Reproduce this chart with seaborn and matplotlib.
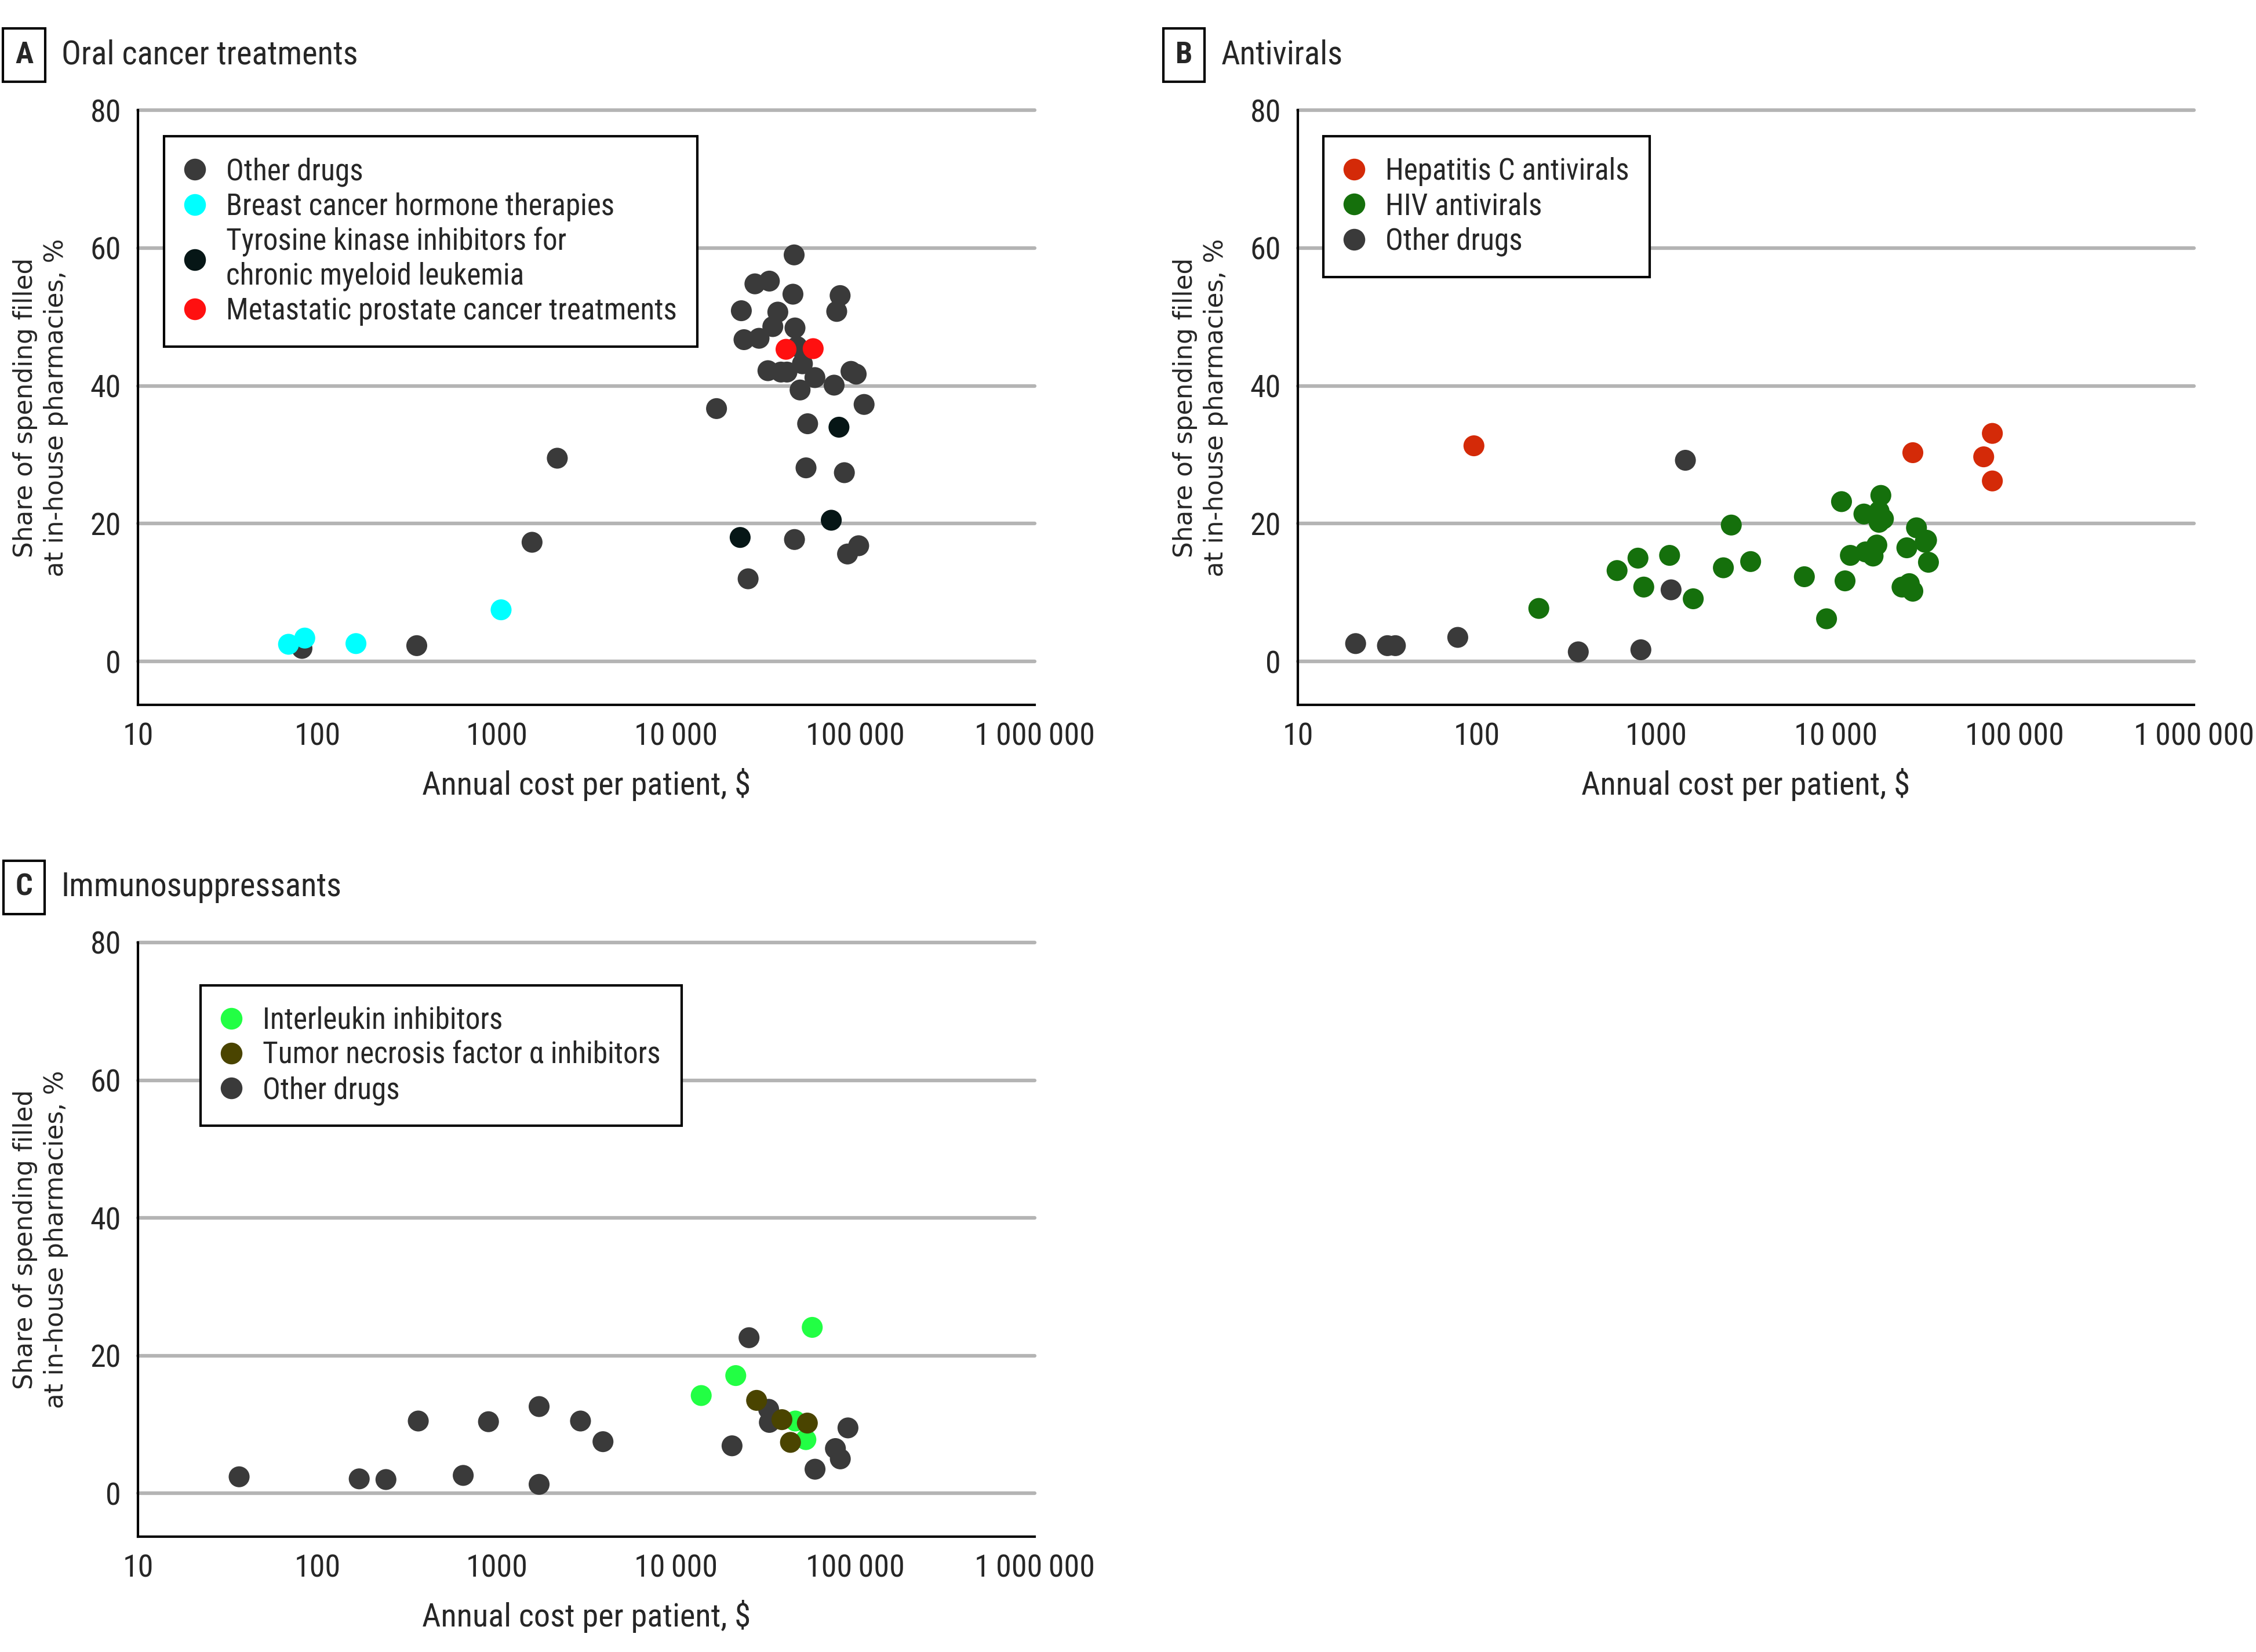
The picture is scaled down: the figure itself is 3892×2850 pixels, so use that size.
import numpy as np
import pandas as pd
import matplotlib.pyplot as plt
import seaborn as sns

# ---- Panel A: oral cancer treatments ----
a_other_cost = [82, 358, 1573, 2175, 16800, 23100, 23900, 27500, 33100, 45500, 44800,
                36900, 34600, 46000, 29000, 32500, 38400, 41500, 47300, 50600, 59400,
                94400, 100900, 76000, 49100, 111700, 54100, 53000, 86700, 45700,
                104200, 90300, 25200, 82100, 78600]
a_other_share = [1.9, 2.3, 17.3, 29.5, 36.7, 50.9, 46.7, 54.8, 55.2, 59.0, 53.3,
                 50.7, 48.6, 48.4, 46.9, 42.2, 42.0, 42.0, 45.7, 43.2, 41.2,
                 42.1, 41.7, 40.1, 39.4, 37.3, 34.5, 28.1, 27.4, 17.7,
                 16.8, 15.6, 12.0, 53.1, 50.8]
a_breast_cost = [69, 85, 164, 1057]
a_breast_share = [2.5, 3.4, 2.6, 7.5]
a_tki_cost = [80900, 73300, 22750]
a_tki_share = [34.0, 20.5, 18.0]
a_prostate_cost = [41000, 58100]
a_prostate_share = [45.3, 45.4]

# ---- Panel B: antivirals ----
b_hepc_cost = [96, 27000, 67100, 75000, 75000]
b_hepc_share = [31.3, 30.3, 29.7, 33.1, 26.2]
b_hiv_cost = [221, 604, 790, 851, 1186, 1607, 2620, 2367, 3360, 6700, 8910, 10800,
              11300, 12100, 14400, 14700, 16200, 17000, 17900, 17500, 18500, 17500,
              25000, 23500, 25800, 27000, 28300, 31600, 32200, 33000]
b_hiv_share = [7.7, 13.2, 15.0, 10.8, 15.4, 9.1, 19.8, 13.6, 14.5, 12.3, 6.2, 23.2,
               11.7, 15.4, 21.4, 15.9, 15.3, 16.9, 24.1, 21.8, 20.7, 20.2,
               16.5, 10.8, 11.3, 10.2, 19.4, 17.3, 17.6, 14.4]
b_other_cost = [21, 31.6, 35, 78, 367, 820, 1209, 1453]
b_other_share = [2.6, 2.3, 2.3, 3.5, 1.4, 1.7, 10.4, 29.2]

# ---- Panel C: immunosuppressants ----
c_il_cost = [13800, 21500, 57400, 46200, 52900]
c_il_share = [14.2, 17.1, 24.1, 10.5, 7.8]
c_tnf_cost = [28100, 38900, 53900, 43400]
c_tnf_share = [13.5, 10.7, 10.2, 7.4]
c_other_cost = [36.6, 171, 241, 365, 650, 899, 1722, 1722, 2930, 3910, 20500, 25500,
                32800, 33100, 59500, 77300, 82300, 90800]
c_other_share = [2.4, 2.1, 2.0, 10.5, 2.6, 10.4, 12.6, 1.3, 10.5, 7.5, 6.9, 22.6,
                 12.2, 10.3, 3.5, 6.5, 5.0, 9.5]

def make_df(groups):
    rows = []
    for name, xs, ys in groups:
        for x, y in zip(xs, ys):
            rows.append({'cost': x, 'share': y, 'group': name})
    return pd.DataFrame(rows)

tki_label = 'Tyrosine kinase inhibitors for\nchronic myeloid leukemia'
df_a = make_df([
    ('Other drugs', a_other_cost, a_other_share),
    ('Breast cancer hormone therapies', a_breast_cost, a_breast_share),
    (tki_label, a_tki_cost, a_tki_share),
    ('Metastatic prostate cancer treatments', a_prostate_cost, a_prostate_share),
])
df_b = make_df([
    ('Other drugs', b_other_cost, b_other_share),
    ('HIV antivirals', b_hiv_cost, b_hiv_share),
    ('Hepatitis C antivirals', b_hepc_cost, b_hepc_share),
])
df_c = make_df([
    ('Other drugs', c_other_cost, c_other_share),
    ('Interleukin inhibitors', c_il_cost, c_il_share),
    ('Tumor necrosis factor α inhibitors', c_tnf_cost, c_tnf_share),
])

pal_a = {'Other drugs': '#3a3a3a', 'Breast cancer hormone therapies': '#00ffff',
         tki_label: '#061616', 'Metastatic prostate cancer treatments': '#ff1010'}
pal_b = {'Hepatitis C antivirals': '#d42a08', 'HIV antivirals': '#15700c',
         'Other drugs': '#3a3a3a'}
pal_c = {'Interleukin inhibitors': '#22ff44', 'Tumor necrosis factor α inhibitors': '#4a4400',
         'Other drugs': '#3a3a3a'}

sns.set_style("white")
narrow = ['Roboto Condensed', 'Liberation Sans Narrow', 'Roboto', 'DejaVu Sans']
plt.rcParams['font.family'] = narrow

fig = plt.figure(figsize=(3892 / 300, 2850 / 300), dpi=300)
ax_a = fig.add_axes([0.0612, 0.5733, 0.3975, 0.3600])
ax_b = fig.add_axes([0.5753, 0.5733, 0.3972, 0.3600])
ax_c = fig.add_axes([0.0612, 0.0698, 0.3975, 0.3597])

xticks = [10, 100, 1000, 10000, 100000, 1000000]
xticklabels = ['10', '100', '1000', '10\u2009000', '100\u2009000', '1\u2009000\u2009000']

panels = [
    (ax_a, df_a, pal_a, list(pal_a.keys()), 'A', 'Oral cancer treatments', (0.029, 0.956)),
    (ax_b, df_b, pal_b, list(pal_b.keys()), 'B', 'Antivirals', (0.0285, 0.956)),
    (ax_c, df_c, pal_c, list(pal_c.keys()), 'C', 'Immunosuppressants', (0.070, 0.928)),
]

for ax, df, pal, order, letter, title, leg_pos in panels:
    for y in [0, 20, 40, 60, 80]:
        ax.axhline(y, color='#b4b4b4', lw=1.5, zorder=0, clip_on=False)
    sns.scatterplot(data=df, x='cost', y='share', hue='group', palette=pal,
                    hue_order=order, s=75, edgecolor='none', linewidth=0, ax=ax,
                    legend=False, zorder=3)
    ax.set_xscale('log')
    ax.set_xlim(10, 1000000)
    ax.set_ylim(-6.3, 80)
    ax.set_xticks(xticks)
    ax.set_xticklabels(xticklabels)
    ax.minorticks_off()
    ax.set_yticks([0, 20, 40, 60, 80])
    ax.tick_params(axis='both', direction='out', length=4, width=1, labelsize=13,
                   color='black', pad=3)
    for side in ['top', 'right']:
        ax.spines[side].set_visible(False)
    for side in ['left', 'bottom']:
        ax.spines[side].set_color('black')
        ax.spines[side].set_linewidth(1)
    ax.set_xlabel('Annual cost per patient, $', fontsize=13.5, labelpad=7)
    ax.set_ylabel('Share of spending filled\nat in-house pharmacies, %', fontsize=10.5,
                  family=['DejaVu Sans'], labelpad=9, linespacing=1.3)

    handles = [plt.Line2D([], [], marker='o', ls='none', markersize=9,
                          markerfacecolor=pal[k], markeredgecolor='none') for k in order]
    leg = ax.legend(handles, order, loc='upper left', bbox_to_anchor=leg_pos,
                    borderaxespad=0, frameon=True, fancybox=False, edgecolor='black',
                    framealpha=1, fontsize=12.3, handletextpad=0.72, labelspacing=0.2,
                    borderpad=0.7, handlelength=0.66)
    leg.get_frame().set_linewidth(1)
    leg.set_zorder(10)

    # panel letter box and title
    bb = ax.get_position()
    fig_y = bb.y1 + 0.0334
    fig.text(bb.x0 - 0.0505, fig_y, letter, fontsize=12.5, fontweight='bold',
             ha='center', va='center',
             bbox=dict(boxstyle='square,pad=0.4', fc='white', ec='black', lw=1))
    fig.text(bb.x0 - 0.034, fig_y, title, fontsize=13.6, ha='left', va='center')

fig.savefig('out.png', dpi=300)
